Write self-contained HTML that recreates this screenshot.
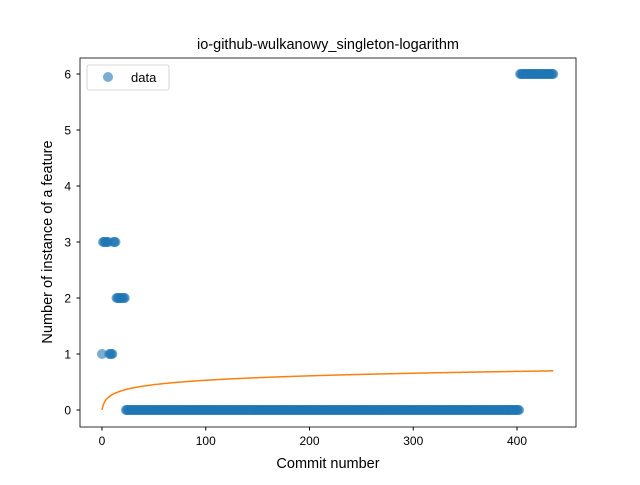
<!DOCTYPE html>
<html><head><meta charset="utf-8"><style>
body{margin:0;background:#fff;}
svg{font-family:"Liberation Sans","DejaVu Sans",sans-serif;}
</style></head><body>
<svg id="chart" width="640" height="480">
<rect width="640" height="480" fill="#fff"/>
<text x="328" y="49" text-anchor="middle" font-size="14.5">io-github-wulkanowy_singleton-logarithm</text>
<g id="plot"></g>
<rect x="80" y="58" width="496" height="369" fill="none" stroke="#000" stroke-width="0.8"/>
<g id="axes"></g>
<text x="328" y="468" text-anchor="middle" font-size="14.5">Commit number</text>
<text transform="translate(52,242) rotate(-90)" text-anchor="middle" font-size="14.5">Number of instance of a feature</text>
<g>
<rect x="87" y="65" width="82" height="25" rx="2" fill="#fff" stroke="#ccc" stroke-width="0.8"/>
<circle cx="108" cy="77" r="5" fill="#1f77b4" fill-opacity="0.6"/>
<text x="131" y="82" font-size="13">data</text>
</g>
</svg>
<script>
const runValues=[1,3,1,3,2,0,6];
const runCounts=[1,6,4,3,9,380,33];
const xTicks=[0,100,200,300,400];
const yTicks=[0,1,2,3,4,5,6];
const fitA=0;
const fitB=0.115;
const fitMaxX=435;
const NS="http://www.w3.org/2000/svg";
function sx(v){return 102+v*1.0375;}
function sy(v){return 410-v*56;}
const plot=document.getElementById('plot');
const axes=document.getElementById('axes');
let idx=0;
for(let r=0;r<runValues.length;r++){
  for(let k=0;k<runCounts[r];k++){
    const c=document.createElementNS(NS,'circle');
    c.setAttribute('cx',sx(idx));c.setAttribute('cy',sy(runValues[r]));
    c.setAttribute('r',5);c.setAttribute('fill','#1f77b4');c.setAttribute('fill-opacity','0.6');
    
    
    plot.appendChild(c);idx++;
  }
}
let d='';
for(let x=0;x<=fitMaxX;x+=1){d+=(x?'L':'M')+sx(x).toFixed(2)+','+sy(fitA+fitB*Math.log(x+1)).toFixed(2);}
const p=document.createElementNS(NS,'path');
p.setAttribute('d',d);p.setAttribute('fill','none');p.setAttribute('stroke','#ff7f0e');p.setAttribute('stroke-width','1.5');


plot.appendChild(p);
xTicks.forEach(t=>{
  const l=document.createElementNS(NS,'line');
  l.setAttribute('x1',sx(t));l.setAttribute('x2',sx(t));l.setAttribute('y1',427);l.setAttribute('y2',430.5);l.setAttribute('stroke','#000');
  
  
  axes.appendChild(l);
  const tx=document.createElementNS(NS,'text');
  tx.setAttribute('x',sx(t));tx.setAttribute('y',445);tx.setAttribute('text-anchor','middle');tx.setAttribute('font-size','12');
  tx.textContent=t;
  
  
  axes.appendChild(tx);
});
yTicks.forEach(t=>{
  const l=document.createElementNS(NS,'line');
  l.setAttribute('x1',76.5);l.setAttribute('x2',80);l.setAttribute('y1',sy(t));l.setAttribute('y2',sy(t));l.setAttribute('stroke','#000');
  
  
  axes.appendChild(l);
  const tx=document.createElementNS(NS,'text');
  tx.setAttribute('x',71);tx.setAttribute('y',sy(t)+4.5);tx.setAttribute('text-anchor','end');tx.setAttribute('font-size','12');
  tx.textContent=t;
  
  
  axes.appendChild(tx);
});
</script>
</body></html>
